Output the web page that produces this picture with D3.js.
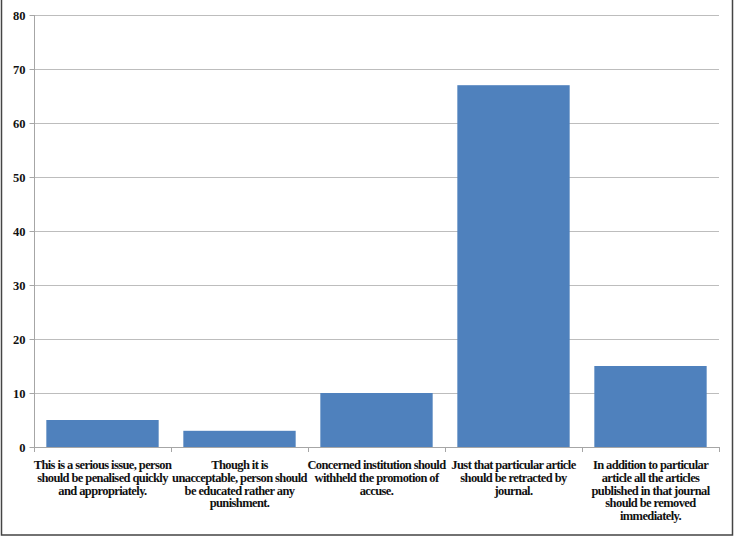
<!DOCTYPE html>
<html>
<head>
<meta charset="utf-8" />
<title>Responses bar chart</title>
<script src="https://cdn.jsdelivr.net/npm/d3@7"></script>
<style>
	body { margin: 0; background: #fff; }
	text { font-family: "Liberation Serif", "DejaVu Serif", serif; font-weight: bold; fill: #111; }
</style>
</head>
<body>
<svg id="chart" width="734" height="537"></svg>
<script>
// values
const categories = ["c1", "c2", "c3", "c4", "c5"];
const labelLines = [
	["This is a serious issue, person", "should be penalised quickly", "and appropriately."],
	["Though it is", "unacceptable, person should", "be educated rather any", "punishment."],
	["Concerned institution should", "withheld the promotion of", "accuse."],
	["Just that particular article", "should be retracted by", "journal."],
	["In addition to particular", "article all the articles", "published in that journal", "should be removed", "immediately."]
];
const values = [5, 3, 10, 67, 15];
const yTicks = [0, 10, 20, 30, 40, 50, 60, 70, 80];

const svg = d3.select("#chart");

// outer frame (no top edge in the original)
svg.append("path")
	.attr("d", "M1.5,0V535H732.5V0")
	.attr("fill", "none")
	.attr("stroke", "#444")
	.attr("stroke-width", 1.5);

const plotL = 34, plotR = 719, plotT = 15, plotB = 447;

let x = d3.scaleBand().domain(categories).range([plotL, plotR]).paddingInner(0.18).paddingOuter(0.09);
let y = d3.scaleLinear().domain([0, 80]).range([plotB, plotT]);

// gridlines
svg.append("g")
	.selectAll("line")
	.data(yTicks.filter(function(d) { return d > 0; }))
	.enter()
	.append("line")
	.attr("x1", plotL).attr("x2", plotR)
	.attr("y1", function(d) { return y(d) + 0.5; })
	.attr("y2", function(d) { return y(d) + 0.5; })
	.attr("stroke", "#bdbdbd")
	.attr("stroke-width", 1);

// bars
svg.append("g")
	.selectAll("rect")
	.data(values)
	.enter()
	.append("rect")
	.attr("x", function(d, i) { return x(categories[i]); })
	.attr("y", function(d) { return y(d); })
	.attr("width", x.bandwidth())
	.attr("height", function(d) { return plotB - y(d); })
	.style("fill", "#4f81bd");

// y axis
let yAxis = svg.append("g")
	.attr("transform", "translate(" + (plotL + 0.5) + ",0)")
	.call(d3.axisLeft(y).tickValues(yTicks).tickSize(5).tickPadding(4));
yAxis.select(".domain").attr("stroke", "#a6a6a6").attr("d", "M0," + plotT + "V" + plotB);
yAxis.selectAll(".tick line").attr("stroke", "#a6a6a6");
yAxis.selectAll(".tick text")
	.style("font-size", "12.5px")
	.style("font-family", "'Liberation Serif', serif")
	.style("font-weight", "bold")
	.attr("fill", "#111");

// x axis line and boundary ticks
let xAxis = svg.append("g");
xAxis.append("line")
	.attr("x1", plotL).attr("x2", plotR)
	.attr("y1", plotB + 0.5).attr("y2", plotB + 0.5)
	.attr("stroke", "#a6a6a6");
xAxis.selectAll("line.b")
	.data(d3.range(categories.length + 1))
	.enter()
	.append("line")
	.attr("class", "b")
	.attr("x1", function(i) { return Math.round(plotL + i * (plotR - plotL) / categories.length) + 0.5; })
	.attr("x2", function(i) { return Math.round(plotL + i * (plotR - plotL) / categories.length) + 0.5; })
	.attr("y1", plotB).attr("y2", plotB + 5)
	.attr("stroke", "#a6a6a6");

// category labels
svg.append("g")
	.selectAll("text")
	.data(labelLines)
	.enter()
	.append("text")
	.attr("text-anchor", "middle")
	.style("font-size", "12.5px")
	.style("letter-spacing", "-0.6px")
	.each(function(lines, i) {
		let cx = x(categories[i]) + x.bandwidth() / 2;
		d3.select(this).selectAll("tspan")
			.data(lines)
			.enter()
			.append("tspan")
			.attr("x", cx)
			.attr("y", function(d, j) { return 469 + j * 12.8; })
			.text(function(d) { return d; });
	});
</script>
</body>
</html>
